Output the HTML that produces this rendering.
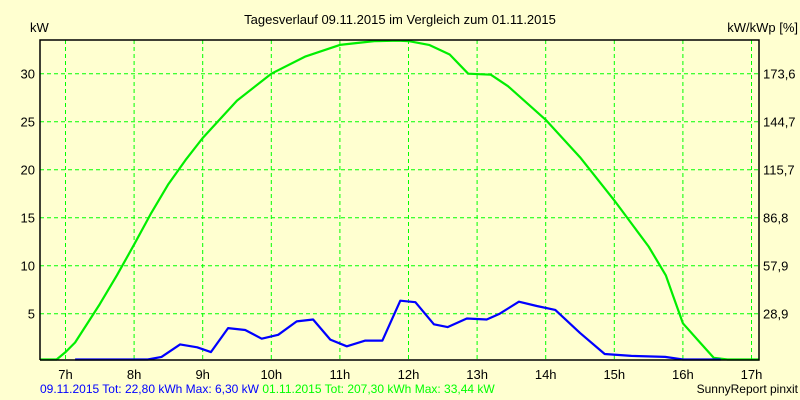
<!DOCTYPE html>
<html><head><meta charset="utf-8"><style>
body{margin:0;background:#ffffd0;}
svg{display:block;font-family:"Liberation Sans",sans-serif;}
</style></head><body>
<svg id="chart" width="800" height="400" xmlns="http://www.w3.org/2000/svg">
<rect x="0" y="0" width="800" height="400" fill="#ffffd0"/>
<text x="400" y="24" text-anchor="middle" font-size="13" fill="#000">Tagesverlauf 09.11.2015 im Vergleich zum 01.11.2015</text>
<text x="30" y="32" font-size="13" fill="#000">kW</text>
<text x="798" y="32" text-anchor="end" font-size="13" fill="#000">kW/kWp [%]</text>
<g id="grid"></g>
<g id="series"></g>
<g id="axes"></g>
<text x="40" y="393" font-size="12" fill="#0000ff">09.11.2015 Tot: 22,80 kWh Max: 6,30 kW <tspan fill="#00ff00">01.11.2015 Tot: 207,30 kWh Max: 33,44 kW</tspan></text>
<text x="798" y="393" text-anchor="end" font-size="12" fill="#000">SunnyReport pinxit</text>
</svg>
<script>
const hourTicks = [7,8,9,10,11,12,13,14,15,16,17];
const kwTicks = [5,10,15,20,25,30];
const pctTicks = ["28,9","57,9","86,8","115,7","144,7","173,6"];
const blueHours = [7.14,8.2,8.4,8.67,8.92,9.12,9.37,9.62,9.86,10.1,10.37,10.61,10.86,11.1,11.37,11.62,11.88,12.1,12.37,12.57,12.85,13.14,13.33,13.61,13.87,14.14,14.5,14.86,15.25,15.74,16.0,16.55];
const blueKw = [0,0.1,0.5,1.8,1.5,1.0,3.5,3.3,2.4,2.8,4.2,4.4,2.3,1.6,2.2,2.2,6.35,6.2,3.9,3.6,4.5,4.4,5.0,6.25,5.8,5.4,3.0,0.8,0.6,0.5,0.2,0.1];
const greenHours = [6.63,6.87,7.0,7.14,7.5,7.75,8.0,8.25,8.5,8.75,9.0,9.5,10.0,10.5,11.0,11.5,11.85,12.0,12.3,12.6,12.87,13.2,13.45,14.0,14.5,15.0,15.5,15.75,15.85,16.0,16.25,16.45,16.65,17.11];
const greenKw = [0,0,1,2,6,9,12.2,15.5,18.5,21,23.3,27.2,30,31.8,33,33.4,33.44,33.4,33.0,32.0,30.0,29.9,28.7,25.2,21.3,16.8,12,9,7,4,2,0.4,0.1,0];

const L=40,R=759,T=40,B=360;
const x = h => 65.5 + (h-7)*68.6;
const y = v => 361.7 - v*9.6;
const NS="http://www.w3.org/2000/svg";
function mk(tag, attrs, parent){const e=document.createElementNS(NS,tag);for(const k in attrs)e.setAttribute(k,attrs[k]);parent.appendChild(e);return e;}
const grid=document.getElementById('grid'), axes=document.getElementById('axes'), series=document.getElementById('series');
hourTicks.forEach(h=>{
  const l=mk('line',{x1:x(h),x2:x(h),y1:T,y2:B,stroke:'#00ff00','stroke-dasharray':'4,3','stroke-width':1},grid);
  
  
  const t=mk('text',{x:x(h),y:379,'text-anchor':'middle','font-size':13,fill:'#000'},axes);
  t.textContent=h+'h';
  
  
});
kwTicks.forEach((v,i)=>{
  const l=mk('line',{x1:L,x2:R,y1:y(v),y2:y(v),stroke:'#00ff00','stroke-dasharray':'4,3','stroke-width':1},grid);
  
  
  const t=mk('text',{x:35,y:y(v)+5,'text-anchor':'end','font-size':13,fill:'#000'},axes);
  t.textContent=v;
  
  
  const t2=mk('text',{x:763,y:y(v)+5,'font-size':13,fill:'#000'},axes);
  t2.textContent=pctTicks[i];
  
  
});
const frame=mk('path',{d:`M${L},${B}V${T}H${R}V${B}H${L}`,fill:'none',stroke:'#000','stroke-width':1.5},axes);


function line(hs,vs,col,name){
  const p=mk('polyline',{points:hs.map((h,i)=>x(h).toFixed(1)+','+Math.min(B-0.5,y(vs[i])).toFixed(1)).join(' '),fill:'none',stroke:col,'stroke-width':2.2,'stroke-linejoin':'round'},series);
  
  
}
line(greenHours,greenKw,'#00ee00','series-01-11-2015');
line(blueHours,blueKw,'#0000ff','series-09-11-2015');
</script>
</body></html>
